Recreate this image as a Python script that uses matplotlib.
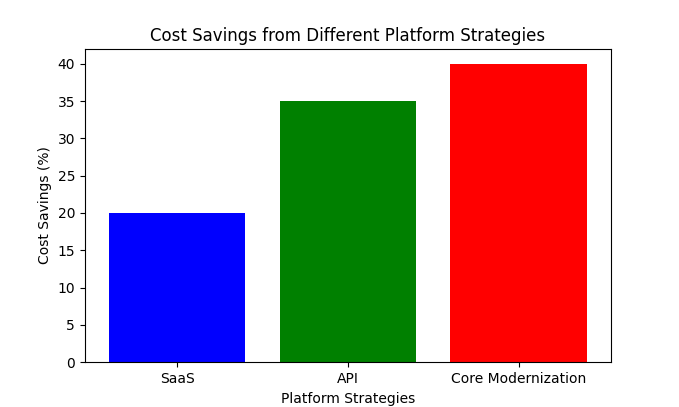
import matplotlib
matplotlib.use("Agg")
import matplotlib.pyplot as plt

categories = ["SaaS", "API", "Core Modernization"]
savings = [20, 35, 40]
colors = ["blue", "green", "red"]

fig, ax = plt.subplots(figsize=(6.79, 4.07), dpi=100)
ax.bar(categories, savings, color=colors)
ax.set_title("Cost Savings from Different Platform Strategies")
ax.set_xlabel("Platform Strategies")
ax.set_ylabel("Cost Savings (%)")
fig.savefig("out.png", dpi=100)
